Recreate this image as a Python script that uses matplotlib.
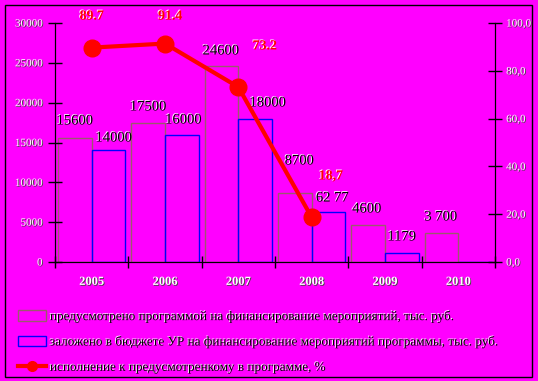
import matplotlib
matplotlib.use("Agg")
import matplotlib.pyplot as plt
import matplotlib.patheffects as pe
from matplotlib.patches import Rectangle
from matplotlib.lines import Line2D
import numpy as np

years = ["2005", "2006", "2007", "2008", "2009", "2010"]
planned = [15600, 17500, 24600, 8700, 4600, 3700]
budget = [14000, 16000, 18000, 6277, 1179, 0]
pct = [89.7, 91.4, 73.2, 18.7]
pct_labels = ["89.7", "91.4", "73.2", "18,7"]
planned_labels = ["15600", "17500", "24600", "8700", "4600", "3 700"]
budget_labels = ["14000", "16000", "18000", "62 77", "1179", None]
legend_texts = [
    "предусмотрено программой на финансирование мероприятий, тыс. руб.",
    "заложено в бюджете УР на финансирование мероприятий программы, тыс. руб.",
    "исполнение к предусмотренкому в программе, %",
]

MAG = "#FF00FF"
BROWN = "#9C5A6E"
plt.rcParams["font.family"] = ["Liberation Serif", "DejaVu Serif"]

dark_fx = [pe.SimplePatchShadow(offset=(-0.6, 0.6), shadow_rgbFace="white", alpha=1), pe.Normal()]
white_fx = [pe.SimplePatchShadow(offset=(0.6, -0.6), shadow_rgbFace="#444444", alpha=1), pe.Normal()]

fig = plt.figure(figsize=(5.38, 3.81), dpi=100, facecolor=MAG)
ax = fig.add_axes([55 / 538, 1 - 262 / 381, 440 / 538, 239 / 381])
ax.set_facecolor(MAG)
ax2 = ax.twinx()

x = np.arange(len(years))
w = 0.46
ax.bar(x - w / 2, planned, w, facecolor="none", edgecolor=BROWN, linewidth=1)
ax.bar(x + w / 2, budget, w, facecolor="none", edgecolor="#0000FF", linewidth=1)

ax.set_xlim(-0.5, 5.5)
ax.set_ylim(0, 30000)
ax.set_yticks(range(0, 30001, 5000))
ax.set_xticks(np.arange(-0.5, 6, 1))
ax.set_xticklabels([])
ax.tick_params(axis="x", direction="inout", length=9, width=1)
ax.tick_params(axis="y", direction="inout", length=10, width=1, labelsize=8,
               labelcolor="white", pad=4)
for lab in ax.get_yticklabels():
    lab.set_path_effects(white_fx)

ax.spines["top"].set_visible(False)
ax2.spines["top"].set_visible(False)

ax2.plot(x[:len(pct)], pct, color="red", lw=3, marker="o", ms=12, zorder=5)
ax2.set_ylim(0, 100)
ax2.set_yticks(range(0, 101, 20))
ax2.set_yticklabels(["%d,0" % v for v in range(0, 101, 20)])
ax2.tick_params(axis="y", direction="inout", length=10, width=1, labelsize=8,
                labelcolor="white", pad=3)
for lab in ax2.get_yticklabels():
    lab.set_path_effects(white_fx)

# year labels under the categories
for i, y in enumerate(years):
    ax.text(i, -2500, y, ha="center", va="center", fontsize=9, fontweight="bold",
            color="white", path_effects=white_fx)

planned_pos = [(-0.23, 17700), (0.77, 19460), (1.76, 26490), (2.83, 12680), (3.75, 6650), (4.76, 5650)]
budget_pos = [(0.30, 15560), (1.25, 17820), (2.40, 19960), (3.28, 8030), (4.23, 3140), None]
for i in range(len(years)):
    ax.text(*planned_pos[i], planned_labels[i], ha="center", va="center", fontsize=10.5,
            color="black", path_effects=dark_fx)
    if budget_labels[i]:
        ax.text(*budget_pos[i], budget_labels[i], ha="center", va="center", fontsize=10.5,
                color="black", path_effects=dark_fx)

pct_pos = [(0, 102.9), (1.07, 102.9), (2.36, 90.4), (3.26, 36)]
for (px, py), t in zip(pct_pos, pct_labels):
    ax2.text(px, py, t, ha="center", va="center", fontsize=10, fontweight="bold",
             color="red", path_effects=dark_fx, clip_on=False)

# legend
handles = [
    Rectangle((0, 0), 1, 1, facecolor="none", edgecolor=BROWN),
    Rectangle((0, 0), 1, 1, facecolor="none", edgecolor="#0000FF"),
    Line2D([], [], color="red", lw=3, marker="o", ms=7),
]
leg = fig.legend(handles, legend_texts, loc="upper left", bbox_to_anchor=(13 / 538, 1 - 305 / 381),
                 frameon=False, fontsize=9.5, handlelength=2.1, handleheight=0.85,
                 labelspacing=0.95, handletextpad=0.3, borderaxespad=0)
for t in leg.get_texts():
    t.set_path_effects(dark_fx)

fig.patches.append(Rectangle((5 / 538, 4 / 381), 527 / 538, 372 / 381, transform=fig.transFigure,
                             facecolor="none", edgecolor="black", lw=1))

fig.savefig("out.png", dpi=100, facecolor=MAG)
